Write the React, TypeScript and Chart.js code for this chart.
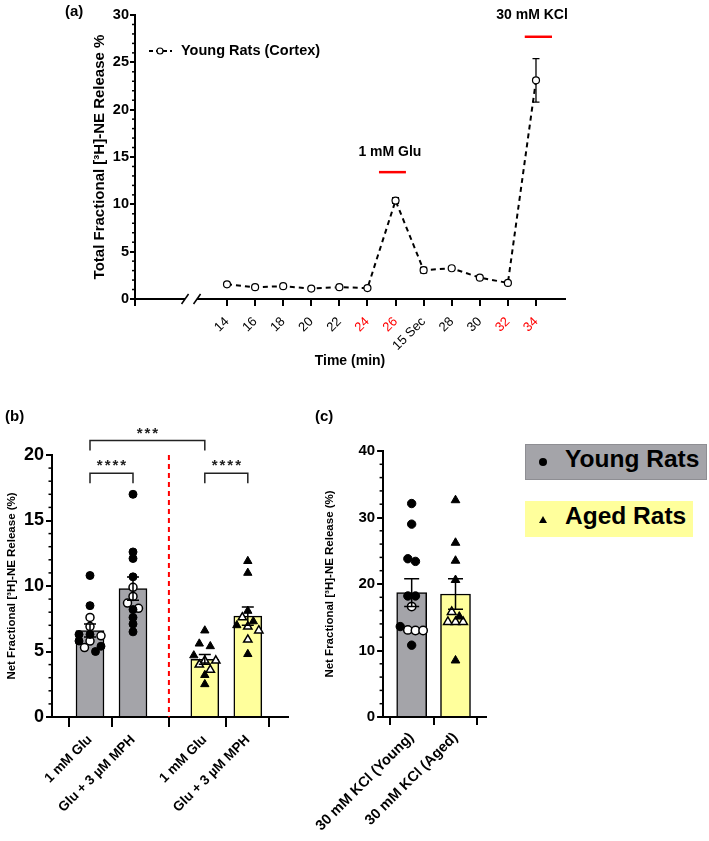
import React, { useEffect, useRef } from 'react';
import { Chart, registerables } from 'chart.js';
Chart.register(...registerables);

const FONT = '"Liberation Sans", Arial, Helvetica, sans-serif';
const BLACK = '#000000';
const RED = '#ff0000';
const GRAY = '#a4a4a9';
const YELLOW = '#ffff9c';

// ---------- Panel (a) data ----------
const timeLabels = ['14', '16', '18', '20', '22', '24', '26', '15 Sec', '28', '30', '32', '34'];
const redTimeLabels = ['24', '26', '32', '34'];
const youngCortexRelease = [1.55, 1.25, 1.35, 1.1, 1.25, 1.15, 10.4, 3.05, 3.25, 2.25, 1.7, 23.1];
const youngCortexSem = [0, 0, 0, 0, 0, 0, 0.3, 0.3, 0, 0, 0, 2.3];
const seriesALabel = 'Young Rats (Cortex)';
const stimulusLabels = ['1 mM Glu', '30 mM KCl'];
const yTitleA = 'Total Fractional [³H]-NE Release %';
const xTitleA = 'Time (min)';

// ---------- Panel (b) data ----------
const gluLabels = ['1 mM Glu', 'Glu + 3 µM MPH', '1 mM Glu', 'Glu + 3 µM MPH'];
const gluMeans = [6.6, 9.8, 4.4, 7.7];
const gluSem = [0.5, 0.88, 0.38, 0.7];
const youngGluFilled = [10.8, 8.5, 6.3, 6.3, 5.8, 5.4, 5.0];
const youngGluOpen = [7.6, 6.9, 6.2, 5.8, 5.3];
const youngMphFilled = [17.0, 12.6, 12.1, 10.7, 8.2, 7.6, 7.1, 6.5];
const youngMphOpen = [9.9, 9.2, 8.7, 8.3];
const agedGluFilled = [6.6, 5.6, 5.4, 4.7, 3.2, 2.5];
const agedGluOpen = [4.3, 4.3, 4.0, 3.6];
const agedMphFilled = [11.9, 11.0, 8.1, 7.3, 7.0, 4.8];
const agedMphOpen = [7.6, 6.9, 6.6, 5.9];
const sigLabels = ['***', '****', '****'];

// ---------- Panel (c) data ----------
const kclLabels = ['30 mM KCl (Young)', '30 mM KCl (Aged)'];
const kclMeans = [18.7, 18.5];
const kclSem = [2.1, 2.3];
const youngKclFilled = [32.1, 29.0, 23.8, 23.4, 18.2, 18.2, 13.6, 10.8];
const youngKclOpen = [16.6, 13.1, 13.0, 13.0];
const agedKclFilled = [32.6, 26.2, 23.5, 20.6, 15.1, 8.5];
const agedKclOpen = [15.8, 14.3, 14.3, 14.3];

const yTitleBC = 'Net Fractional [³H]-NE Release (%)';
const legendLabels = ['Young Rats', 'Aged Rats'];

// ---------- helpers ----------
const font = (size: number, weight: any = 'bold') => ({ family: FONT, size, weight });

const minorTicksPlugin = {
  id: 'minorTicks',
  afterDraw(chart: any, _a: any, opts: any) {
    const y = chart.scales.y;
    const { ctx } = chart;
    ctx.save();
    ctx.strokeStyle = BLACK;
    ctx.lineWidth = 1.5;
    for (let v = y.min; v <= y.max + 1e-9; v += opts.step) {
      const r = v / opts.major;
      if (Math.abs(r - Math.round(r)) < 1e-6) continue;
      const py = y.getPixelForValue(v);
      ctx.beginPath();
      ctx.moveTo(y.right - opts.length, py);
      ctx.lineTo(y.right, py);
      ctx.stroke();
    }
    ctx.restore();
  },
};

// Row-based swarm (points with nearly equal values share a row, spread symmetrically)
function swarm(filled: number[], open: number[], center: number, pxY: number, pxX: number, rowTol: number, spacing: number) {
  const all = [...filled.map((v) => ({ v, f: true })), ...open.map((v) => ({ v, f: false }))].sort((a, b) => b.v - a.v);
  const rows: any[] = [];
  let cur: any[] = [];
  for (const p of all) {
    if (cur.length && (cur[0].v - p.v) * pxY > rowTol) {
      rows.push(cur);
      cur = [];
    }
    cur.push(p);
  }
  if (cur.length) rows.push(cur);
  const F: any[] = [];
  const O: any[] = [];
  rows.forEach((row) =>
    row.forEach((p: any, j: number) => {
      const dx = ((j - (row.length - 1) / 2) * spacing) / pxX;
      (p.f ? F : O).push({ x: center + dx, y: p.v });
    })
  );
  return { filled: F, open: O };
}

// ---------- Panel (a) ----------
const A = { w: 709, h: 380, left: 135, right: 565, top: 15, bottom: 299, firstTickPx: 92, spacingPx: 28.09 };
const aXMin = -A.firstTickPx / A.spacingPx;
const aXMax = aXMin + (A.right - A.left) / A.spacingPx;
const stimuli = [
  { label: stimulusLabels[0], from: 5.41, to: 6.37, barY: 13.4, textX: 5.8, textY: 15.5 },
  { label: stimulusLabels[1], from: 10.6, to: 11.57, barY: 27.7, textX: 10.86, textY: 30 },
];
const axisBreakAt = -1.28;

const panelAPlugin = {
  id: 'panelA',
  beforeDatasetsDraw(chart: any) {
    const { ctx, scales } = chart;
    const { x, y } = scales;
    ctx.save();
    ctx.strokeStyle = BLACK;
    ctx.lineWidth = 1.3;
    youngCortexRelease.forEach((v, i) => {
      const s = youngCortexSem[i];
      if (!s) return;
      const px = x.getPixelForValue(i);
      const y1 = y.getPixelForValue(v + s);
      const y2 = y.getPixelForValue(v - s);
      ctx.beginPath();
      ctx.moveTo(px, y1);
      ctx.lineTo(px, y2);
      ctx.moveTo(px - 3.5, y1);
      ctx.lineTo(px + 3.5, y1);
      ctx.moveTo(px - 3.5, y2);
      ctx.lineTo(px + 3.5, y2);
      ctx.stroke();
    });
    ctx.restore();
  },
  afterDraw(chart: any) {
    const { ctx, scales, chartArea } = chart;
    const { x, y } = scales;
    ctx.save();
    // axis break
    const bx = x.getPixelForValue(axisBreakAt);
    const by = chartArea.bottom;
    ctx.fillStyle = '#fff';
    ctx.fillRect(bx - 6, by - 3, 12, 6);
    ctx.strokeStyle = BLACK;
    ctx.lineWidth = 1.5;
    [-6, 6].forEach((d) => {
      ctx.beginPath();
      ctx.moveTo(bx + d - 3.5, by + 5);
      ctx.lineTo(bx + d + 3.5, by - 5);
      ctx.stroke();
    });
    // stimulus annotations
    stimuli.forEach((s) => {
      ctx.strokeStyle = RED;
      ctx.lineWidth = 2.5;
      ctx.beginPath();
      const py = y.getPixelForValue(s.barY);
      ctx.moveTo(x.getPixelForValue(s.from), py);
      ctx.lineTo(x.getPixelForValue(s.to), py);
      ctx.stroke();
      ctx.fillStyle = BLACK;
      ctx.font = `bold 14px ${FONT}`;
      ctx.textAlign = 'center';
      ctx.textBaseline = 'middle';
      ctx.fillText(s.label, x.getPixelForValue(s.textX), y.getPixelForValue(s.textY));
    });
    // legend
    const ly = chartArea.top + 36;
    const lx = chartArea.left + 14;
    ctx.strokeStyle = BLACK;
    ctx.lineWidth = 2;
    ctx.setLineDash([4, 3]);
    ctx.beginPath();
    ctx.moveTo(lx, ly);
    ctx.lineTo(lx + 23, ly);
    ctx.stroke();
    ctx.setLineDash([]);
    ctx.beginPath();
    ctx.arc(lx + 11, ly, 3, 0, Math.PI * 2);
    ctx.fillStyle = '#fff';
    ctx.fill();
    ctx.lineWidth = 1.2;
    ctx.stroke();
    ctx.fillStyle = BLACK;
    ctx.font = `bold 14.5px ${FONT}`;
    ctx.textAlign = 'left';
    ctx.textBaseline = 'middle';
    ctx.fillText(seriesALabel, lx + 32, ly);
    ctx.restore();
  },
};

function makePanelA(canvas: HTMLCanvasElement) {
  const yTitleSize = 15;
  const xTitleSize = 14;
  return new Chart(canvas, {
    type: 'scatter',
    data: {
      datasets: [
        {
          label: seriesALabel,
          data: youngCortexRelease.map((v, i) => ({ x: i, y: v })),
          showLine: true,
          borderColor: BLACK,
          borderWidth: 2,
          borderDash: [5, 4],
          pointRadius: 3.5,
          pointBackgroundColor: '#fff',
          pointBorderColor: BLACK,
          pointBorderWidth: 1.2,
        } as any,
      ],
    },
    options: {
      animation: false,
      responsive: false,
      layout: { padding: { left: 0, right: A.w - A.right, top: A.top, bottom: 0 } },
      plugins: { legend: { display: false }, tooltip: { enabled: false }, minorTicks: { step: 1, major: 5, length: 3 } } as any,
      scales: {
        x: {
          type: 'linear',
          min: aXMin,
          max: aXMax,
          afterBuildTicks: (s: any) => {
            s.ticks = [{ value: aXMin }, ...timeLabels.map((_, i) => ({ value: i }))];
          },
          ticks: {
            autoSkip: false,
            minRotation: 45,
            maxRotation: 45,
            padding: 8,
            font: font(13, 'normal'),
            color: (c: any) => (redTimeLabels.includes(timeLabels[c.tick?.value]) ? RED : BLACK),
            callback: (v: any) => (Number.isInteger(v) && v >= 0 ? timeLabels[v] : ''),
          },
          grid: { drawOnChartArea: false, drawTicks: true, tickLength: 7, color: BLACK, lineWidth: 2 },
          border: { display: true, color: BLACK, width: 2 },
          title: { display: true, text: xTitleA, color: BLACK, font: font(xTitleSize), padding: { top: 0, bottom: 19 - (xTitleSize * 1.2) / 2 } },
          afterFit: (s: any) => {
            s.height = A.h - A.bottom;
          },
        },
        y: {
          min: 0,
          max: 30,
          ticks: { stepSize: 5, padding: 1, color: BLACK, font: font(14.5) },
          grid: { drawOnChartArea: false, drawTicks: true, tickLength: 5, color: BLACK, lineWidth: 2 },
          border: { display: true, color: BLACK, width: 2 },
          title: { display: true, text: yTitleA, color: BLACK, font: font(yTitleSize), padding: { top: 100 - (yTitleSize * 1.2) / 2, bottom: 0 } },
          afterFit: (s: any) => {
            s.width = A.left;
          },
        },
      } as any,
    },
    plugins: [panelAPlugin, minorTicksPlugin],
  } as any);
}

// ---------- Bar panels (b) and (c) ----------
function makeBarPanel(canvas: HTMLCanvasElement, spec: any) {
  const { area, w, h } = spec;
  const xMin = -spec.firstCenterPx / spec.spacingPx;
  const xMax = xMin + (area.right - area.left) / spec.spacingPx;
  const pxY = (area.bottom - area.top) / spec.yMax;
  const datasets: any[] = [
    {
      type: 'bar',
      data: spec.positions.map((p: number, i: number) => ({ x: p, y: spec.means[i] })),
      backgroundColor: spec.colors,
      borderColor: BLACK,
      borderWidth: 1.5,
      barThickness: spec.barThickness,
      grouped: false,
      order: 3,
    },
  ];
  spec.groups.forEach((g: any, i: number) => {
    const s = swarm(g.filled, g.open, spec.positions[i], pxY, spec.spacingPx, spec.rowTol, spec.swarmSpacing);
    const r = g.shape === 'triangle' ? spec.triRadius : spec.dotRadius;
    datasets.push({ type: 'scatter', data: s.filled, pointStyle: g.shape, pointRadius: r, pointBackgroundColor: BLACK, pointBorderColor: BLACK, pointBorderWidth: 1, order: 1 });
    datasets.push({ type: 'scatter', data: s.open, pointStyle: g.shape, pointRadius: r, pointBackgroundColor: '#fff', pointBorderColor: BLACK, pointBorderWidth: 1.5, order: 1 });
  });

  const errPlugin = {
    id: 'errBars',
    afterDatasetsDraw(chart: any) {
      const { ctx, scales } = chart;
      const { x, y } = scales;
      ctx.save();
      ctx.strokeStyle = BLACK;
      ctx.lineWidth = 1.5;
      spec.positions.forEach((p: number, i: number) => {
        const px = x.getPixelForValue(p);
        const t = y.getPixelForValue(spec.means[i] + spec.sems[i]);
        const b = y.getPixelForValue(spec.means[i] - spec.sems[i]);
        ctx.beginPath();
        ctx.moveTo(px, t);
        ctx.lineTo(px, b);
        ctx.moveTo(px - spec.capHalf, t);
        ctx.lineTo(px + spec.capHalf, t);
        ctx.moveTo(px - spec.capHalf, b);
        ctx.lineTo(px + spec.capHalf, b);
        ctx.stroke();
      });
      ctx.restore();
    },
    afterDraw(chart: any) {
      if (spec.extraDraw) spec.extraDraw(chart);
    },
  };

  return new Chart(canvas, {
    type: 'bar',
    data: { datasets },
    options: {
      animation: false,
      responsive: false,
      layout: { padding: { left: 0, right: w - area.right, top: area.top, bottom: 0 } },
      plugins: { legend: { display: false }, tooltip: { enabled: false }, minorTicks: { step: spec.yMinor, major: spec.yStep, length: 3.5 } } as any,
      scales: {
        x: {
          type: 'linear',
          min: xMin,
          max: xMax,
          offset: false,
          afterBuildTicks: (s: any) => {
            s.ticks = spec.positions.map((v: number) => ({ value: v }));
          },
          ticks: {
            autoSkip: false,
            minRotation: 45,
            maxRotation: 45,
            padding: spec.xTickPadding,
            color: BLACK,
            font: font(spec.xTickSize),
            callback: (v: any) => {
              const k = spec.positions.indexOf(v);
              return k >= 0 ? spec.labels[k] : '';
            },
          },
          grid: { drawOnChartArea: false, drawTicks: true, tickLength: spec.xTickLength, color: BLACK, lineWidth: 2 },
          border: { display: true, color: BLACK, width: 2 },
          afterFit: (s: any) => {
            s.height = h - area.bottom;
          },
        },
        y: {
          min: 0,
          max: spec.yMax,
          ticks: { stepSize: spec.yStep, padding: 2, color: BLACK, font: font(spec.yTickSize) },
          grid: { drawOnChartArea: false, drawTicks: true, tickLength: 6, color: BLACK, lineWidth: 2 },
          border: { display: true, color: BLACK, width: 2 },
          title: {
            display: true,
            text: yTitleBC,
            color: BLACK,
            font: font(spec.yTitleSize),
            padding: { top: spec.yTitleX - (spec.yTitleSize * 1.2) / 2, bottom: 0 },
          },
          afterFit: (s: any) => {
            s.width = area.left;
          },
        },
      } as any,
    },
    plugins: [errPlugin, minorTicksPlugin],
  } as any);
}

const B_GAP = 0.67;
const positionsB = gluLabels.map((_, i) => i + (i >= 2 ? B_GAP : 0));
const bracketsB = [
  { a: 0, b: 2, level: 21.1, text: sigLabels[0] },
  { a: 0, b: 1, level: 18.6, text: sigLabels[1] },
  { a: 2, b: 3, level: 18.6, text: sigLabels[2] },
];

const specB = {
  w: 300,
  h: 461,
  area: { left: 52, right: 288, top: 75, bottom: 337 },
  firstCenterPx: 38,
  spacingPx: 43,
  positions: positionsB,
  labels: gluLabels,
  means: gluMeans,
  sems: gluSem,
  colors: [GRAY, GRAY, YELLOW, YELLOW],
  groups: [
    { filled: youngGluFilled, open: youngGluOpen, shape: 'circle' },
    { filled: youngMphFilled, open: youngMphOpen, shape: 'circle' },
    { filled: agedGluFilled, open: agedGluOpen, shape: 'triangle' },
    { filled: agedMphFilled, open: agedMphOpen, shape: 'triangle' },
  ],
  yMax: 20,
  yStep: 5,
  yMinor: 1,
  yTickSize: 18,
  yTitleSize: 11.5,
  yTitleX: 12,
  xTickSize: 13.5,
  xTickLength: 10,
  xTickPadding: 5,
  barThickness: 28,
  rowTol: 6,
  swarmSpacing: 11,
  dotRadius: 4,
  triRadius: 4.8,
  capHalf: 6,
  extraDraw(chart: any) {
    const { ctx, scales, chartArea } = chart;
    const { x, y } = scales;
    ctx.save();
    // red dashed separator
    const sx = x.getPixelForValue((positionsB[1] + positionsB[2]) / 2);
    ctx.strokeStyle = RED;
    ctx.lineWidth = 2;
    ctx.setLineDash([5, 4]);
    ctx.beginPath();
    ctx.moveTo(sx, chartArea.top);
    ctx.lineTo(sx, chartArea.bottom);
    ctx.stroke();
    ctx.setLineDash([]);
    // significance brackets
    ctx.strokeStyle = '#222';
    ctx.lineWidth = 1.5;
    bracketsB.forEach((br) => {
      const x1 = x.getPixelForValue(positionsB[br.a]);
      const x2 = x.getPixelForValue(positionsB[br.b]);
      const ly = y.getPixelForValue(br.level);
      ctx.beginPath();
      ctx.moveTo(x1, ly + 10);
      ctx.lineTo(x1, ly);
      ctx.lineTo(x2, ly);
      ctx.lineTo(x2, ly + 10);
      ctx.stroke();
      ctx.fillStyle = '#222';
      ctx.font = `bold 15px ${FONT}`;
      (ctx as any).letterSpacing = '2px';
      ctx.textAlign = 'center';
      ctx.textBaseline = 'alphabetic';
      ctx.fillText(br.text, (x1 + x2) / 2 + 1, ly - 3);
      (ctx as any).letterSpacing = '0px';
    });
    ctx.restore();
  },
};

const specC = {
  w: 230,
  h: 461,
  area: { left: 88, right: 196, top: 71, bottom: 337 },
  firstCenterPx: 30,
  spacingPx: 46,
  positions: [0, 1],
  labels: kclLabels,
  means: kclMeans,
  sems: kclSem,
  colors: [GRAY, YELLOW],
  groups: [
    { filled: youngKclFilled, open: youngKclOpen, shape: 'circle' },
    { filled: agedKclFilled, open: agedKclOpen, shape: 'triangle' },
  ],
  yMax: 40,
  yStep: 10,
  yMinor: 2,
  yTickSize: 15,
  yTitleSize: 11.5,
  yTitleX: 35,
  xTickSize: 14.5,
  xTickLength: 8,
  xTickPadding: 4,
  barThickness: 30,
  rowTol: 8,
  swarmSpacing: 8,
  dotRadius: 4.2,
  triRadius: 5,
  capHalf: 7.5,
};

const panelLabel = (left: number, top: number): React.CSSProperties => ({
  position: 'absolute',
  left,
  top,
  font: `bold 15px ${FONT}`,
  lineHeight: '15px',
  color: BLACK,
});

export default function App() {
  const aRef = useRef<HTMLCanvasElement>(null);
  const bRef = useRef<HTMLCanvasElement>(null);
  const cRef = useRef<HTMLCanvasElement>(null);
  useEffect(() => {
    const charts = [makePanelA(aRef.current!), makeBarPanel(bRef.current!, specB), makeBarPanel(cRef.current!, specC)];
    return () => charts.forEach((c) => c.destroy());
  }, []);
  return (
    <div style={{ position: 'absolute', left: 0, top: 0, width: 709, height: 841, background: '#fff', overflow: 'hidden' }}>
      <canvas ref={aRef} width={709} height={380} style={{ position: 'absolute', left: 0, top: 0 }} />
      <canvas ref={bRef} width={300} height={461} style={{ position: 'absolute', left: 0, top: 380 }} />
      <canvas ref={cRef} width={230} height={461} style={{ position: 'absolute', left: 290, top: 380 }} />
      <div style={panelLabel(65, 3)}>(a)</div>
      <div style={panelLabel(5, 408)}>(b)</div>
      <div style={panelLabel(315, 408)}>(c)</div>
      <div
        style={{
          position: 'absolute',
          left: 525,
          top: 444,
          width: 182,
          height: 36,
          background: GRAY,
          border: '1px solid #8e8e93',
          boxSizing: 'border-box',
        }}
      >
        <span style={{ position: 'absolute', left: 13, top: 13, width: 8, height: 8, borderRadius: '50%', background: BLACK }} />
        <span style={{ position: 'absolute', left: 39, top: 0, lineHeight: '34px', font: `bold 24.5px ${FONT}`, color: BLACK, whiteSpace: 'nowrap' }}>
          {legendLabels[0]}
        </span>
      </div>
      <div style={{ position: 'absolute', left: 525, top: 501, width: 168, height: 36, background: YELLOW }}>
        <span
          style={{
            position: 'absolute',
            left: 14,
            top: 15,
            width: 0,
            height: 0,
            borderLeft: '4px solid transparent',
            borderRight: '4px solid transparent',
            borderBottom: '7px solid #000',
          }}
        />
        <span style={{ position: 'absolute', left: 40, top: 1, lineHeight: '34px', font: `bold 24.5px ${FONT}`, color: BLACK, whiteSpace: 'nowrap' }}>
          {legendLabels[1]}
        </span>
      </div>
    </div>
  );
}
